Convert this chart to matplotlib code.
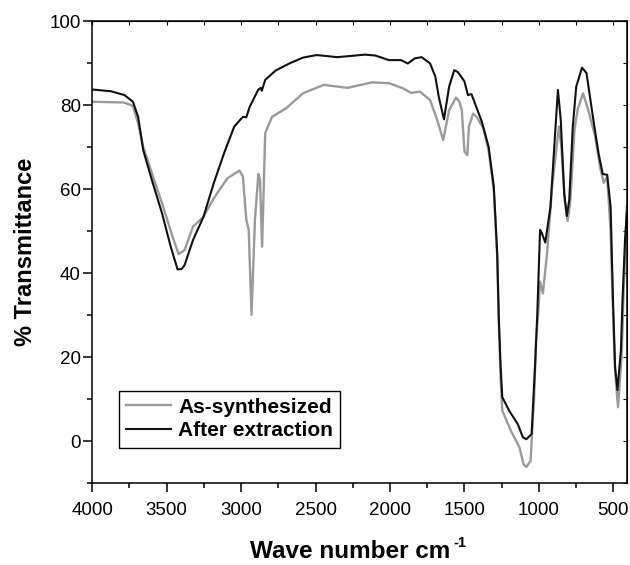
import matplotlib
matplotlib.use("Agg")
import matplotlib.pyplot as plt
from matplotlib.ticker import MultipleLocator

plt.rcParams['font.family'] = ['Liberation Sans', 'DejaVu Sans']

# As-synthesized (gray)
wn_as = [4000, 3785, 3727, 3692, 3658, 3600, 3531, 3461, 3420, 3380, 3323, 3253,
         3184, 3092, 3011, 2988, 2965, 2949, 2930, 2907, 2884, 2873, 2859, 2838,
         2792, 2699, 2584, 2445, 2284, 2122, 2007, 1914, 1857, 1799, 1730, 1683,
         1642, 1602, 1556, 1533, 1517, 1499, 1480, 1469, 1441, 1418, 1372, 1337,
         1302, 1279, 1268, 1256, 1245, 1187, 1129, 1102, 1083, 1055, 1032, 1018,
         1002, 991, 972, 944, 910, 864, 848, 825, 806, 787, 760, 737, 702, 667,
         621, 586, 563, 540, 517, 500, 487, 467, 441, 430, 408]
t_as = [80.8, 80.6, 79.8, 75.7, 70.1, 63.8, 56.6, 48.7, 44.5, 45.5, 51.1, 53.4,
        57.8, 62.6, 64.4, 63.0, 52.7, 50.3, 30.1, 52.7, 63.6, 62.2, 46.3, 73.3,
        77.2, 79.2, 82.8, 84.8, 84.1, 85.4, 85.2, 84.0, 82.9, 83.2, 81.2, 76.5,
        71.7, 78.8, 81.8, 80.8, 78.8, 68.9, 68.1, 74.9, 78.0, 77.2, 74.5, 69.3,
        59.8, 44.0, 28.0, 15.0, 7.3, 2.5, -1.5, -5.5, -6.1, -4.7, 9.7, 24.0,
        31.2, 38.0, 35.2, 44.7, 60.6, 74.9, 70.1, 57.4, 52.4, 57.4, 74.1, 79.2,
        82.8, 78.8, 72.5, 64.9, 61.5, 63.0, 50.0, 30.0, 16.9, 8.1, 21.6, 35.0, 56.0]

# After extraction (black)
wn_after = [4000, 3877, 3785, 3727, 3692, 3658, 3600, 3531, 3473, 3427, 3400, 3380,
            3323, 3253, 3184, 3115, 3046, 2988, 2965, 2942, 2884, 2868, 2861, 2838,
            2769, 2676, 2584, 2492, 2353, 2168, 2099, 2007, 1926, 1880, 1833, 1787,
            1730, 1695, 1672, 1637, 1602, 1568, 1545, 1522, 1499, 1476, 1452, 1383,
            1337, 1302, 1279, 1268, 1256, 1245, 1199, 1141, 1106, 1083, 1048, 1025,
            1010, 991, 979, 956, 921, 887, 871, 852, 829, 811, 795, 771, 748, 709,
            679, 633, 598, 570, 540, 517, 501, 487, 471, 448, 437, 420, 408]
t_after = [83.7, 83.3, 82.4, 80.8, 77.2, 69.3, 62.2, 54.2, 46.3, 40.9, 41.0, 41.9,
           47.9, 53.4, 61.4, 68.5, 74.9, 77.2, 77.1, 79.6, 83.7, 84.1, 83.4, 86.0,
           88.2, 89.9, 91.3, 91.9, 91.4, 92.0, 91.8, 90.7, 90.7, 89.9, 91.1, 91.4,
           89.9, 86.8, 82.0, 76.6, 84.4, 88.3, 87.9, 86.8, 85.6, 82.4, 82.6, 76.1,
           70.1, 60.6, 44.7, 28.9, 17.7, 10.5, 7.3, 4.1, 0.9, 0.5, 1.7, 17.7,
           30.0, 50.3, 49.5, 47.3, 55.8, 74.9, 83.6, 76.5, 59.0, 53.6, 57.4, 74.9,
           84.4, 88.9, 87.6, 76.5, 68.5, 63.6, 63.4, 55.8, 33.6, 17.7, 12.2, 21.6,
           33.6, 48.0, 54.5]

fig = plt.figure(figsize=(6.3, 5.65), dpi=100)
ax = fig.add_axes([0.1465, 0.1446, 0.8487, 0.8182])

ax.plot(wn_as, t_as, color='#9a9a9a', lw=1.7, label='As-synthesized')
ax.plot(wn_after, t_after, color='#111111', lw=1.5, label='After extraction')

ax.set_xlim(4000, 407)
ax.set_ylim(-10, 100)
ax.xaxis.set_major_locator(MultipleLocator(500))
ax.xaxis.set_minor_locator(MultipleLocator(250))
ax.yaxis.set_major_locator(MultipleLocator(20))
ax.yaxis.set_minor_locator(MultipleLocator(10))
ax.tick_params(which='major', length=6.3, width=1.1, labelsize=13.5, direction='out')
ax.tick_params(which='minor', length=3.4, width=1.1, direction='out')
ax.tick_params(axis='x', which='major', pad=7)
ax.tick_params(axis='y', which='major', pad=2)
for s in ax.spines.values():
    s.set_linewidth(1.1)

# inward ticks on top and right
top = ax.secondary_xaxis('top')
top.xaxis.set_major_locator(MultipleLocator(250))
top.tick_params(direction='in', length=3, width=0.8, labeltop=False)
right = ax.secondary_yaxis('right')
right.yaxis.set_major_locator(MultipleLocator(10))
right.tick_params(direction='in', length=3, width=0.8, labelright=False)

# x label with a plain hyphen superscript
fig.text(450.7 / 630, 1 - 558.5 / 565, 'Wave number cm', fontsize=17.5,
         fontweight='bold', ha='right', va='baseline')
fig.text(453.5 / 630, 1 - 547 / 565, '-1', fontsize=10.5,
         fontweight='bold', ha='left', va='baseline')
ax.set_ylabel('% Transmittance', fontsize=17, fontweight='bold', labelpad=9)

leg = ax.legend(loc='upper left', bbox_to_anchor=(0.05, 0.2005), borderaxespad=0,
                fancybox=False, edgecolor='black', framealpha=1,
                prop={'weight': 'bold', 'size': 15}, handlelength=2.16,
                handletextpad=0.35, labelspacing=0.23, borderpad=0.34)
leg.get_frame().set_linewidth(1.0)

plt.savefig('out.png', dpi=100)
